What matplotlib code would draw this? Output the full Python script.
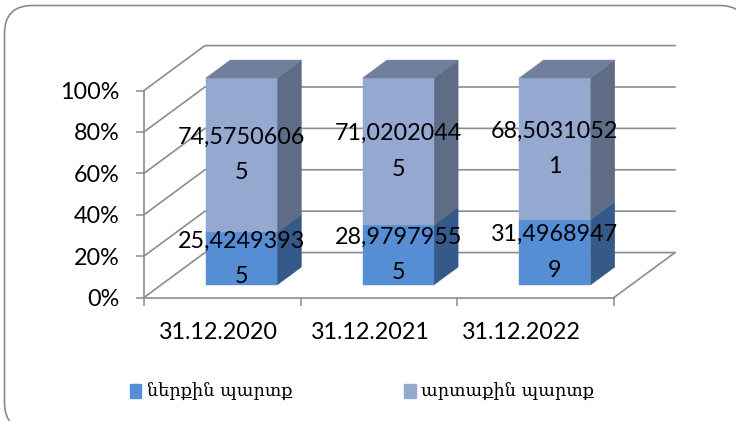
"""Stacked 100% column chart with a fake 3D (oblique) look."""

import matplotlib
matplotlib.use("Agg")
import matplotlib.pyplot as plt
from matplotlib.patches import FancyBboxPatch, Patch, Polygon
from matplotlib.transforms import Affine2D

W, H = 736, 421

CATEGORIES = ["31.12.2020", "31.12.2021", "31.12.2022"]
INTERNAL = [25.42493935, 28.97979555, 31.49689479]
EXTERNAL = [74.57506065, 71.02020445, 68.50310521]
Y_TICKS = [0, 20, 40, 60, 80, 100]
Y_TICK_LABELS = ["0%", "20%", "40%", "60%", "80%", "100%"]
SERIES_NAMES = ["ներքին պարտք", "արտաքին պարտք"]

# oblique shift of one full depth unit, in data units
DX = 0.389
DY = 21.7
BAR_OFFSET = 0.514
BAR_WIDTH = 0.4545
BAR_D0 = 0.278
BAR_D1 = 0.678

GRID = "#8c8c8c"
FRONT = ["#558ed5", "#95a9d0"]
SIDE = ["#355a8a", "#5e6c86"]
TOP = "#6f7f9c"
SANS = "Lato"
SERIF = ["DejaVu Serif", "DejaVu Sans"]
FONT_SIZE = 16.8


def proj(x, y, d):
    return x + d * DX, y + d * DY


def draw_box(ax, xc, y0, y1, front, side, top=None):
    x0, x1 = xc - BAR_WIDTH / 2, xc + BAR_WIDTH / 2
    faces = [
        ([(x1, y0, BAR_D0), (x1, y0, BAR_D1), (x1, y1, BAR_D1), (x1, y1, BAR_D0)], side),
        ([(x0, y0, BAR_D0), (x1, y0, BAR_D0), (x1, y1, BAR_D0), (x0, y1, BAR_D0)], front),
    ]
    if top:
        faces.append(([(x0, y1, BAR_D0), (x1, y1, BAR_D0), (x1, y1, BAR_D1), (x0, y1, BAR_D1)], top))
    for pts, col in faces:
        ax.add_patch(Polygon([proj(*p) for p in pts], closed=True, facecolor=col,
                             edgecolor=col, linewidth=0.3, zorder=3, clip_on=False))


def wrap_label(v):
    s = f"{v:.8f}".replace(".", ",")
    return s[:10] + "\n" + s[10:]


fig = plt.figure(figsize=(W / 100, H / 100), dpi=100)
# frame runs off the right and bottom of the picture; filled so agg does not clip its curves
fig.patches.append(FancyBboxPatch((4.5, 5.5), 743, 425, boxstyle="round,pad=0,rounding_size=28",
                                  transform=Affine2D().scale(1, -1).translate(0, H),
                                  facecolor="white", edgecolor="#8a8a8a", linewidth=1.2, zorder=-1))

ax = fig.add_axes([144 / W, 1 - 297.5 / H, 470 / W, 207 / H])
ax.patch.set_visible(False)
ax.set_xlim(0, 3)
ax.set_ylim(0, 100)

for v in Y_TICKS:
    xs, ys = zip(proj(0, v, 0), proj(0, v, 1), proj(3, v, 1))
    ax.plot(xs, ys, color=GRID, lw=1.2, zorder=1, clip_on=False)
xs, ys = zip(proj(3, 0, 0), proj(3, 0, 1))
ax.plot(xs, ys, color=GRID, lw=1.2, zorder=1, clip_on=False)

for i, (low, high) in enumerate(zip(INTERNAL, EXTERNAL)):
    xc = i + BAR_OFFSET
    draw_box(ax, xc, 0, low, FRONT[0], SIDE[0])
    draw_box(ax, xc, low, low + high, FRONT[1], SIDE[1], TOP)
    for mid, val in ((low / 2, low), (low + high / 2, high)):
        tx, ty = proj(xc, mid, BAR_D0)
        ax.text(tx, ty, wrap_label(val), ha="center", va="center", fontsize=FONT_SIZE,
                family=SANS, color="black", linespacing=1.85, zorder=5, clip_on=False)

for s in ("top", "right"):
    ax.spines[s].set_visible(False)
for s in ("left", "bottom"):
    ax.spines[s].set_color(GRID)
    ax.spines[s].set_linewidth(1.2)

ax.set_yticks(Y_TICKS, Y_TICK_LABELS)
ax.set_xticks([0, 1, 2, 3], [])
ax.set_xticks([0.472, 1.443, 2.411], CATEGORIES, minor=True)
ax.tick_params(axis="y", length=5.8, width=1.1, color=GRID, pad=12, labelsize=FONT_SIZE)
ax.tick_params(axis="x", which="major", length=5.8, width=1.1, color=GRID)
ax.tick_params(axis="x", which="minor", length=0, pad=17.5, labelsize=FONT_SIZE)
for lab in ax.get_yticklabels() + ax.get_xticklabels(minor=True):
    lab.set_family(SANS)

handles = [Patch(facecolor=c, edgecolor=c) for c in FRONT]
fig.legend(handles, SERIES_NAMES, ncol=2, loc="center", bbox_to_anchor=(362 / W, 1 - 392 / H),
           frameon=False, prop={"family": SERIF, "size": 12.7}, handlelength=0.65,
           handleheight=0.8, handletextpad=0.3, columnspacing=6.36, borderpad=0)

fig.savefig("out.png", dpi=100)
